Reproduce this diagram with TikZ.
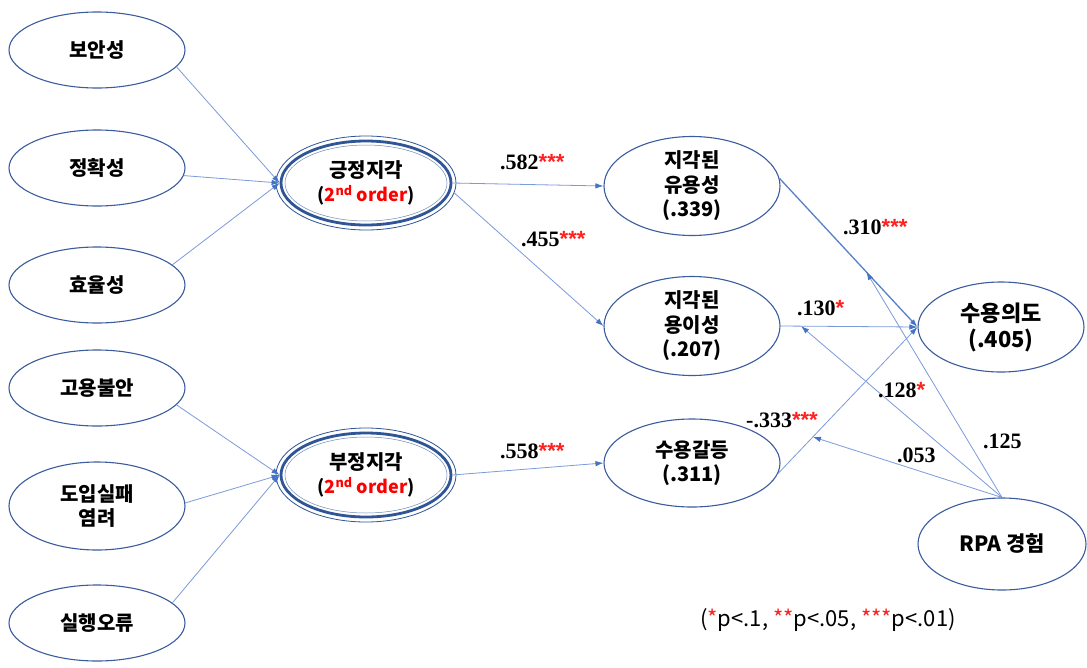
\documentclass[tikz,border=0pt]{standalone}
\usepackage{fontspec}
\setmainfont{Liberation Serif}
\setsansfont{Liberation Sans}
\newfontfamily\kr{Noto Sans CJK KR}
\usetikzlibrary{shapes.geometric,arrows.meta,calc}
\definecolor{edgeblue}{HTML}{3B5C9E}
\definecolor{dblue}{HTML}{2F5597}
\definecolor{lineblue}{HTML}{7C9BDA}
\definecolor{tipblue}{HTML}{4472C4}
\definecolor{starred}{HTML}{FF2020}
\tikzset{
  ell/.style={ellipse, draw=edgeblue, line width=1.1pt, minimum width=176pt,
    minimum height=76pt, inner sep=0pt, align=center,
    font=\kr\bfseries\fontsize{20}{24.5}\selectfont},
  conn/.style={draw=lineblue, line width=0.8pt, -{Latex[length=8pt,width=5.5pt,color=tipblue]}},
  coef/.style={anchor=base west, inner sep=0pt, font=\bfseries\fontsize{22}{24}\selectfont},
}
\newcommand{\stars}[1]{{\color{starred}\sffamily\bfseries #1}}
\newcommand{\nd}{{\fontsize{18}{22}\selectfont(\textcolor{red}{2\textsuperscript{nd} order})}}
\begin{document}
\begin{tikzpicture}[x=1pt,y=-1pt]
\useasboundingbox (0,0) rectangle (1087,667);
\fill[white] (0,0) rectangle (1087,667);
% left column
\node[ell] (a1) at (97,50) {보안성};
\node[ell] (a2) at (97,168) {정확성};
\node[ell] (a3) at (97,285) {효율성};
\node[ell] (b1) at (97,388) {고용불안};
\node[ell, minimum height=88pt] (b2) at (97,506) {도입실패\\염려};
\node[ell] (b3) at (97,623) {실행오류};
% second order
\node[ell, draw=dblue, line width=2.8pt, minimum width=170pt, minimum height=84pt] (pos) at (366,183) {긍정지각\\[-1pt]\nd};
\draw[dblue, line width=0.8pt] (pos.center) ellipse [x radius=90, y radius=47];
\draw[dblue!70, line width=0.5pt] (pos.center) ellipse [x radius=81, y radius=38];
\node[ell, draw=dblue, line width=2.8pt, minimum width=170pt, minimum height=84pt] (neg) at (366,475) {부정지각\\[-1pt]\nd};
\draw[dblue, line width=0.8pt] (neg.center) ellipse [x radius=90, y radius=47];
\draw[dblue!70, line width=0.5pt] (neg.center) ellipse [x radius=81, y radius=38];
% middle column
\node[ell, minimum height=92pt] (use) at (692,186) {지각된\\유용성\\(.339)};
\node[ell, minimum height=88pt] (ease) at (692,326) {지각된\\용이성\\(.207)};
\node[ell, minimum height=88pt] (conf) at (692,463) {수용갈등\\(.311)};
% right column
\node[ell, minimum width=166pt, minimum height=90pt, font=\kr\bfseries\fontsize{22}{26}\selectfont] (int) at (1001,327) {수용의도\\(.405)};
\node[ell, minimum width=168pt, minimum height=92pt, font=\kr\bfseries\fontsize{21}{26}\selectfont] (rpa) at (1002,544) {RPA 경험};
% first-order to second-order
\draw[conn] (a1.-12) -- (pos.west);
\draw[conn] (a2.-5) -- (pos.west);
\draw[conn] (a3.15) -- (pos.west);
\draw[conn] (b1.-12) -- (neg.west);
\draw[conn] (b2.2) -- (neg.west);
\draw[conn] (b3.15) -- (neg.west);
% structural paths
\draw[conn] (pos.east) -- (use.west);
\draw[conn] ($(pos.east)+(2,10)$) -- (ease.west);
\draw[conn] (neg.east) -- (conf.west);
\draw[conn, draw=tipblue!90, line width=1.3pt] (use.5) -- (int.west);
\draw[conn] (ease.east) -- (int.west);
\draw[conn] (conf.-7) -- (int.west);
% moderation
\coordinate (m1) at ($(use.5)!0.63!(int.west)$);
\coordinate (m2) at ($(ease.east)!0.15!(int.west)$);
\coordinate (m3) at ($(conf.-7)!0.25!(int.west)$);
\draw[conn] (rpa.north) -- (m1);
\draw[conn] (rpa.north) -- (m2);
\draw[conn] (rpa.north) -- (m3);
% coefficients
\node[coef] (c1) at (500,169) {.582\stars{***}};
\node[coef] (c2) at (521,246) {.455\stars{***}};
\node[coef] (c3) at (500,458) {.558\stars{***}};
\node[coef] (c4) at (843,234) {.310\stars{***}};
\node[coef] (c5) at (797,315) {.130\stars{*}};
\node[coef] (c6) at (746,427) {-.333\stars{***}};
\node[coef] (c7) at (878,397) {.128\stars{*}};
\node[coef] (c8) at (897,462) {.053};
\node[coef] (c9) at (983,448) {.125};
% note
\node[anchor=west, inner sep=0pt, font=\kr\fontsize{22}{26}\selectfont] (note) at (700,620)
  {(\textcolor{starred}{*}p<.1, \textcolor{starred}{**}p<.05, \textcolor{starred}{***}p<.01)};
\end{tikzpicture}
\end{document}
